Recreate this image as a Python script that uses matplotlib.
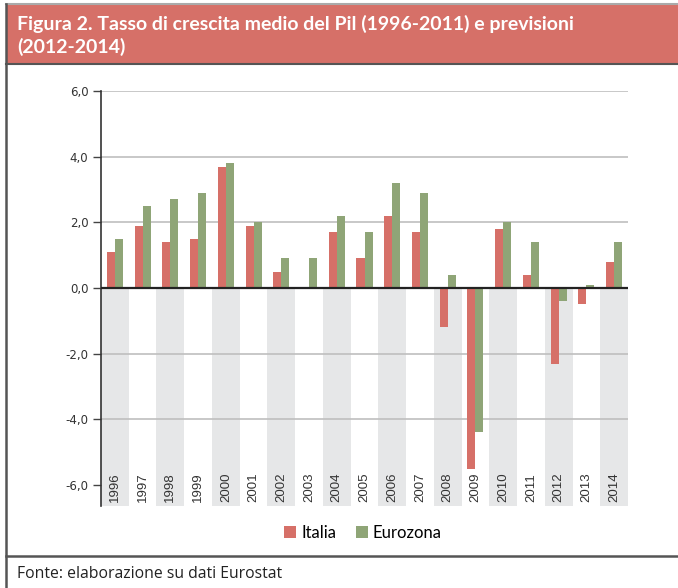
import matplotlib.pyplot as plt
from matplotlib.patches import Rectangle, Patch
from matplotlib.lines import Line2D

# ------------------------------------------------ dati
years = ['1996', '1997', '1998', '1999', '2000', '2001', '2002', '2003', '2004', '2005',
         '2006', '2007', '2008', '2009', '2010', '2011', '2012', '2013', '2014']
italia = [1.1, 1.9, 1.4, 1.5, 3.7, 1.9, 0.5, 0.0, 1.7, 0.9,
          2.2, 1.7, -1.2, -5.5, 1.8, 0.4, -2.3, -0.5, 0.8]
eurozona = [1.5, 2.5, 2.7, 2.9, 3.8, 2.0, 0.9, 0.9, 2.2, 1.7,
            3.2, 2.9, 0.4, -4.4, 2.0, 1.4, -0.4, 0.1, 1.4]
yticks = [6, 4, 2, 0, -2, -4, -6]

title = 'Figura 2. Tasso di crescita medio del Pil (1996-2011) e previsioni\n(2012-2014)'
source = 'Fonte: elaborazione su dati Eurostat'

RED = '#D67068'
GREEN = '#8FA577'
BAND = '#E6E7E8'
FRAME = '#555555'

W, H = 678, 588
fig = plt.figure(figsize=(W / 100, H / 100), dpi=100)

# ------------------------------------------------ cornice e testata
fig.patches.append(Rectangle((6 / W, 1 - 64 / H), 1, 60 / H, transform=fig.transFigure,
                             facecolor=RED, edgecolor='none', zorder=0))
fig.add_artist(Line2D([6 / W, 1], [1 - 4 / H] * 2, color='#AAAAAA', lw=1.5))
fig.add_artist(Line2D([6 / W, 1], [1 - 64 / H] * 2, color=FRAME, lw=1.5))
fig.add_artist(Line2D([6 / W, 6 / W], [0, 1 - 4 / H], color=FRAME, lw=1.8))
fig.add_artist(Line2D([6 / W, 1], [1 - 556 / H] * 2, color=FRAME, lw=1.8))

fig.text(17 / W, 1 - 15 / H, title, color='white', fontsize=14, fontweight='bold',
         family='Lato', va='top', ha='left', linespacing=1.3)
fig.text(17 / W, 1 - 574 / H, source, color='#222222', fontsize=11.3,
         family='Open Sans', va='center', ha='left')

# ------------------------------------------------ grafico
ax = fig.add_axes([101 / W, 1 - 506 / H, 527 / W, 415 / H])
ymin, ymax = -6.64, 6.0
n = len(years)
x = list(range(n))

# fasce grigie sotto lo zero, anni alterni
ax.bar(x[::2], [ymin] * len(x[::2]), width=1.0, color=BAND, zorder=0)

for t in yticks:
    if t not in (0, -6):
        ax.axhline(t, color='#BFBFBF', lw=1.2, zorder=1)

w = 0.29
ax.bar([i - w / 2 for i in x], italia, width=w, color=RED, zorder=2)
ax.bar([i + w / 2 for i in x], eurozona, width=w, color=GREEN, zorder=2)
ax.axhline(0, color='#222222', lw=1.6, zorder=3)

for i, yr in enumerate(years):
    ax.text(i, ymin + 0.12, yr, rotation=90, ha='center', va='bottom',
            fontsize=9.5, family='Liberation Sans', color='#333333')

ax.set_xlim(-0.5, n - 0.5)
ax.set_ylim(ymin, ymax)
ax.set_xticks([])
ax.set_yticks(yticks)
ax.set_yticklabels([('%.1f' % t).replace('.', ',') for t in yticks],
                   fontsize=8.5, color='#333333')
ax.tick_params(axis='y', length=6, width=1, color='#444444', pad=3)
for s in ('top', 'right', 'bottom'):
    ax.spines[s].set_visible(False)
ax.spines['left'].set_color('#333333')
ax.spines['left'].set_linewidth(1.2)

handles = [Patch(facecolor=RED, label='Italia'), Patch(facecolor=GREEN, label='Eurozona')]
fig.legend(handles=handles, loc='center', bbox_to_anchor=(363 / W, 1 - 533 / H), ncol=2,
           frameon=False, handlelength=0.7, handleheight=0.7, handletextpad=0.3,
           columnspacing=1.2, prop={'family': 'Lato', 'size': 12})

fig.savefig('out.png', dpi=100)
